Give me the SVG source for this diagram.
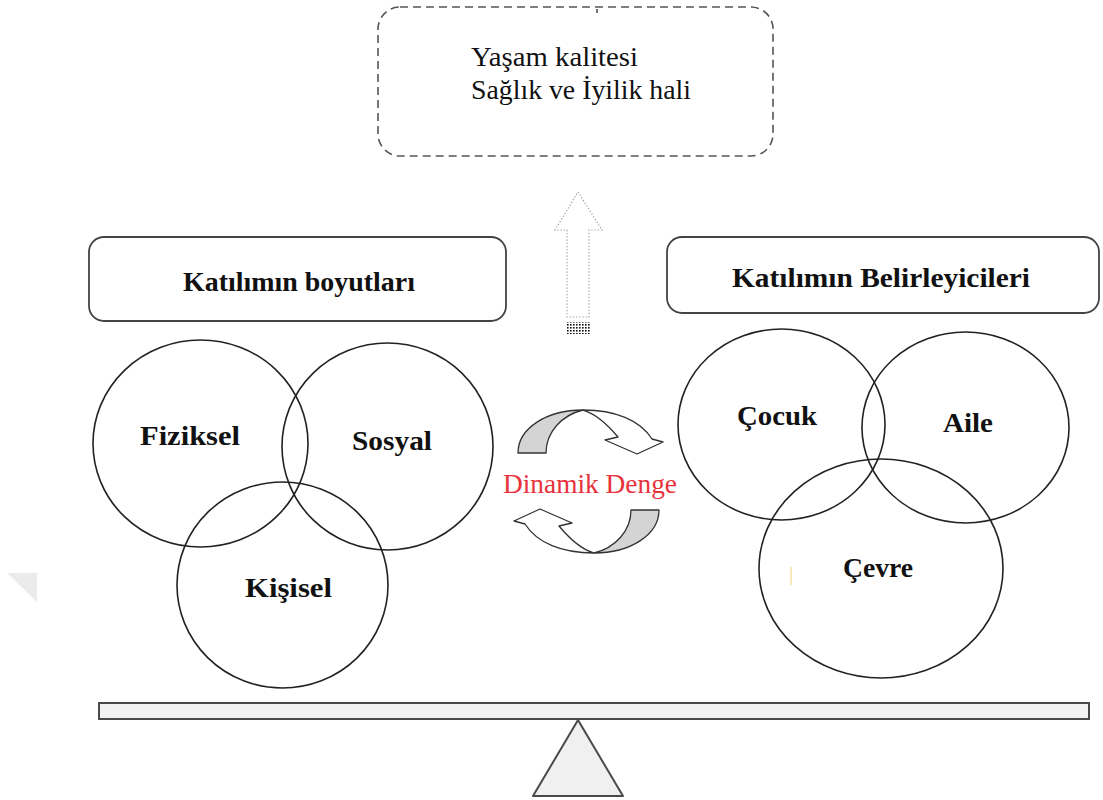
<svg xmlns="http://www.w3.org/2000/svg" width="1103" height="800" viewBox="0 0 1103 800">
  <defs>
    <style>
      .serif { font-family: "Liberation Serif", "Times New Roman", serif; fill: #111; }
      .bold { font-weight: bold; font-size: 28px; }
      .ring { fill: none; stroke: #222; stroke-width: 1.6; }
      .panel { fill: #fff; stroke: #444; stroke-width: 1.8; }
      .twist { stroke: #333; stroke-width: 1.3; stroke-linejoin: round; }
      .red { fill: #e8323c; }
    </style>
    <pattern id="dots" width="3" height="3" patternUnits="userSpaceOnUse">
      <rect x="0" y="0" width="1.6" height="1.6" fill="#111"/>
    </pattern>
    <g id="cycle-arrow">
      <!-- underside of the twisted band -->
      <path class="twist" fill="#d4d4d4" d="M518,453 C518,428 547,410 583,410 C562,415 546,432 546,453 Z"/>
      <!-- upper side of the band with its head -->
      <path class="twist" fill="#fff" d="M583,410 C615,410 640,420 652,439 L663,442 L637,454 L605,440 L618,437 C608,425 597,414 583,410 Z"/>
    </g>
  </defs>

  <rect width="1103" height="800" fill="#fff"/>

  <!-- faint corner mark at left edge -->
  <polygon points="7,573 37,573 37,602" fill="#ebebeb"/>

  <!-- outcome box -->
  <g id="outcome">
    <rect x="378" y="7" width="395" height="149" rx="22" fill="none" stroke="#555" stroke-width="1.6" stroke-dasharray="8 5"/>
    <line x1="597" y1="9" x2="597" y2="13" stroke="#444" stroke-width="1.5"/>
    <text class="serif" x="471" y="66" font-size="28" textLength="167" lengthAdjust="spacingAndGlyphs">Yaşam kalitesi</text>
    <text class="serif" x="471" y="99" font-size="28" textLength="220" lengthAdjust="spacingAndGlyphs">Sağlık ve İyilik hali</text>
  </g>

  <!-- hollow upward arrow -->
  <g id="up-arrow">
    <path d="M578,192 L602,230 L589,230 L589,317 L567,317 L567,230 L555,230 Z" fill="#fff" stroke="#9a9a9a" stroke-width="1.2" stroke-dasharray="1.2 2"/>
    <rect x="566" y="322" width="24" height="12" fill="url(#dots)"/>
  </g>

  <!-- dimensions -->
  <g id="dimensions-title">
    <rect class="panel" x="89" y="237" width="417" height="84" rx="15"/>
    <text class="serif bold" x="183" y="291" textLength="232" lengthAdjust="spacingAndGlyphs">Katılımın boyutları</text>
  </g>
  <g id="fiziksel">
    <ellipse class="ring" cx="200.5" cy="443.5" rx="107.5" ry="103.5"/>
    <text class="serif bold" x="140" y="445" textLength="100" lengthAdjust="spacingAndGlyphs">Fiziksel</text>
  </g>
  <g id="sosyal">
    <ellipse class="ring" cx="387.5" cy="446.5" rx="105.5" ry="103.5"/>
    <text class="serif bold" x="352" y="450" textLength="80" lengthAdjust="spacingAndGlyphs">Sosyal</text>
  </g>
  <g id="kisisel">
    <ellipse class="ring" cx="282.5" cy="585" rx="105.5" ry="103"/>
    <text class="serif bold" x="245" y="597" textLength="87" lengthAdjust="spacingAndGlyphs">Kişisel</text>
  </g>

  <!-- determinants -->
  <g id="determinants-title">
    <rect class="panel" x="667" y="237" width="432" height="76" rx="15"/>
    <text class="serif bold" x="732" y="287" textLength="298" lengthAdjust="spacingAndGlyphs">Katılımın Belirleyicileri</text>
  </g>
  <g id="cocuk">
    <ellipse class="ring" cx="781.5" cy="424.5" rx="103.5" ry="95.5"/>
    <text class="serif bold" x="737" y="425" textLength="80" lengthAdjust="spacingAndGlyphs">Çocuk</text>
  </g>
  <g id="aile">
    <ellipse class="ring" cx="965.5" cy="427.5" rx="103.5" ry="95.5"/>
    <text class="serif bold" x="943" y="432" textLength="50" lengthAdjust="spacingAndGlyphs">Aile</text>
  </g>
  <g id="cevre">
    <ellipse class="ring" cx="881" cy="568.5" rx="122" ry="109.5"/>
    <line x1="791" y1="567" x2="791" y2="585" stroke="#f5d98f" stroke-width="1.2"/>
    <text class="serif bold" x="843" y="577" textLength="70" lengthAdjust="spacingAndGlyphs">Çevre</text>
  </g>

  <!-- balance cycle -->
  <g id="connectors">
    <use href="#cycle-arrow"/>
    <use href="#cycle-arrow" transform="rotate(180 588.5 481.5)"/>
  </g>
  <g id="dinamik-denge">
    <text class="serif red" x="503" y="493" font-size="27" textLength="174" lengthAdjust="spacingAndGlyphs">Dinamik Denge</text>
  </g>

  <!-- seesaw -->
  <g id="seesaw">
    <rect x="99" y="703" width="990" height="16" fill="#f2f2f2" stroke="#4a4a4a" stroke-width="2"/>
    <polygon points="578,720 623,796 533,796" fill="#f0f0f0" stroke="#4a4a4a" stroke-width="2" stroke-linejoin="round"/>
  </g>
</svg>
